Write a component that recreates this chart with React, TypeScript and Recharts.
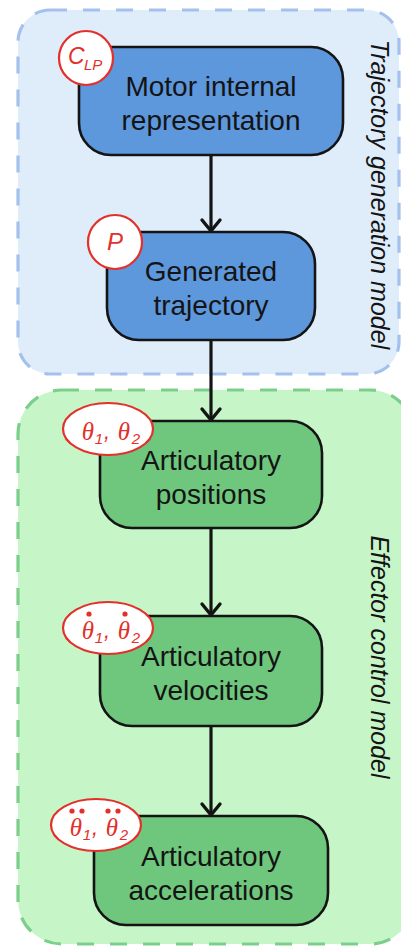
import React from "react";
import { ComposedChart, XAxis, YAxis, Scatter, ReferenceArea, ReferenceLine } from "recharts";

// ---------- content ----------
const stageLines: string[][] = [
  ["Motor internal", "representation"],
  ["Generated", "trajectory"],
  ["Articulatory", "positions"],
  ["Articulatory", "velocities"],
  ["Articulatory", "accelerations"],
];
const stageVariable = ["CLP", "P", "theta", "theta", "theta"];
const stageDerivative = [0, 0, 0, 1, 2];
const stageGroup = [0, 0, 1, 1, 1];
const groupLabels = ["Trajectory generation model", "Effector control model"];
const links: [number, number][] = [[0, 1], [1, 2], [2, 3], [3, 4]];

// ---------- layout (pixel units of the diagram) ----------
const W = 401;
const H = 946;
const CENTER_X = 211;
const centerY = [101, 286, 474.5, 671, 870.5];
const boxW = [264, 208, 222, 222, 234];
const boxH = [108, 108, 107, 110, 109];
const bubbleOff = [[7, 11], [8, 10], [8, 8], [8, 12], [2, 9]];
const groupX1 = [18, 18];
const groupX2 = [399, 414];
const groupY1 = [10, 390];
const groupY2 = [374, 944];
const groupRadius = [32, 44];
const groupLabelX = 371;
const groupLabelY = [194.5, 657];

// ---------- styles ----------
const FONT = "'Liberation Sans', Arial, Helvetica, sans-serif";
const SERIF = "'Liberation Serif', 'Times New Roman', serif";
const RED = "#e3302a";
const groupFill = ["#dfedfb", "#c6f6c8"];
const groupStroke = ["#a3c1ec", "#7ccf8b"];
const boxFill = ["#5d97dc", "#6fc77e"];
const INK = "#141414";

const nodes = stageLines.map((lines, i) => ({
  x: CENTER_X,
  y: centerY[i],
  i,
  lines,
  variable: stageVariable[i],
  deriv: stageDerivative[i],
  group: stageGroup[i],
}));

const tips = links.map(([, b]) => ({ x: CENTER_X, y: centerY[b] - boxH[b] / 2 }));

function Bubble({ kind, deriv, ex, ey }: { kind: string; deriv: number; ex: number; ey: number }) {
  if (kind === "CLP" || kind === "P") {
    return (
      <g>
        <circle cx={ex} cy={ey} r={27} fill="#ffffff" stroke={RED} strokeWidth={2.2} />
        {kind === "CLP" ? (
          <text fill={RED} fontFamily={FONT} fontStyle="italic">
            <tspan x={ex - 18} y={ey + 6} fontSize={23}>C</tspan>
            <tspan x={ex - 2} y={ey + 12} fontSize={15}>LP</tspan>
          </text>
        ) : (
          <text x={ex} y={ey + 8} fill={RED} fontFamily={FONT} fontStyle="italic" fontSize={24} textAnchor="middle">
            P
          </text>
        )}
      </g>
    );
  }
  const t1 = ex - 20;
  const t2 = ex + 16;
  const dotY = ey - 14;
  const dots: number[] = [];
  if (deriv === 1) dots.push(t1 + 1, t2 + 1);
  if (deriv === 2) dots.push(t1 - 4, t1 + 6, t2 - 4, t2 + 6);
  return (
    <g>
      <ellipse cx={ex} cy={ey} rx={45} ry={26} fill="#ffffff" stroke={RED} strokeWidth={2.2} />
      <text x={t1} y={ey + 11} fill={RED} fontFamily={SERIF} fontStyle="italic" fontSize={25} textAnchor="middle">θ</text>
      <text x={t1 + 11} y={ey + 15} fill={RED} fontFamily={FONT} fontStyle="italic" fontSize={15} textAnchor="middle">1</text>
      <text x={ex - 1} y={ey + 10} fill={RED} fontFamily={FONT} fontStyle="italic" fontSize={22} textAnchor="middle">,</text>
      <text x={t2} y={ey + 11} fill={RED} fontFamily={SERIF} fontStyle="italic" fontSize={25} textAnchor="middle">θ</text>
      <text x={t2 + 12} y={ey + 15} fill={RED} fontFamily={FONT} fontStyle="italic" fontSize={15} textAnchor="middle">2</text>
      {dots.map((dx, k) => (
        <circle key={k} cx={dx} cy={dotY} r={2.6} fill={RED} />
      ))}
    </g>
  );
}

function NodeShape(props: any) {
  const { cx, cy, payload } = props;
  const i = payload.i;
  const w = boxW[i];
  const h = boxH[i];
  const left = cx - w / 2;
  const top = cy - h / 2;
  return (
    <g>
      <rect x={left} y={top} width={w} height={h} rx={32} ry={32} fill={boxFill[payload.group]} stroke={INK} strokeWidth={2.6} />
      <text x={cx} y={cy - 5} textAnchor="middle" fontFamily={FONT} fontSize={28} fill={INK}>
        {payload.lines[0]}
      </text>
      <text x={cx} y={cy + 29} textAnchor="middle" fontFamily={FONT} fontSize={28} fill={INK}>
        {payload.lines[1]}
      </text>
      <Bubble kind={payload.variable} deriv={payload.deriv} ex={left + bubbleOff[i][0]} ey={top + bubbleOff[i][1]} />
    </g>
  );
}

function ArrowHead(props: any) {
  const { cx, cy } = props;
  return (
    <path
      d={`M${cx - 9},${cy - 12} L${cx},${cy - 1} L${cx + 9},${cy - 12}`}
      fill="none"
      stroke={INK}
      strokeWidth={3.4}
      strokeLinecap="round"
      strokeLinejoin="round"
    />
  );
}

function makeGroupShape(g: number) {
  return (props: any) => {
    const { x, y, width, height } = props;
    return (
      <g>
        <rect
          x={x}
          y={y}
          width={width}
          height={height}
          rx={groupRadius[g]}
          ry={groupRadius[g]}
          fill={groupFill[g]}
          stroke={groupStroke[g]}
          strokeWidth={3.2}
          strokeDasharray="17 16"
        />
        <text
          x={groupLabelX}
          y={groupLabelY[g]}
          transform={`rotate(90 ${groupLabelX} ${groupLabelY[g]})`}
          textAnchor="middle"
          fontFamily={FONT}
          fontStyle="italic"
          fontSize={25}
          fill={INK}
        >
          {groupLabels[g]}
        </text>
      </g>
    );
  };
}

export default function App() {
  return (
    <div style={{ position: "absolute", left: 0, top: 0, width: W, height: H, background: "#ffffff" }}>
      <ComposedChart width={W} height={H} margin={{ top: 0, right: 0, bottom: 0, left: 0 }}>
        <XAxis type="number" dataKey="x" domain={[0, W]} hide allowDataOverflow />
        <YAxis type="number" dataKey="y" domain={[0, H]} reversed hide allowDataOverflow />
        {groupLabels.map((_, g) => (
          <ReferenceArea
            key={g}
            x1={groupX1[g]}
            x2={groupX2[g]}
            y1={groupY1[g]}
            y2={groupY2[g]}
            ifOverflow="visible"
            shape={makeGroupShape(g)}
          />
        ))}
        {links.map(([a, b], k) => (
          <ReferenceLine
            key={k}
            segment={[
              { x: CENTER_X, y: centerY[a] + boxH[a] / 2 },
              { x: CENTER_X, y: centerY[b] - boxH[b] / 2 - 2 },
            ]}
            stroke={INK}
            strokeWidth={3.2}
            ifOverflow="visible"
          />
        ))}
        <Scatter data={tips} shape={ArrowHead} isAnimationActive={false} />
        <Scatter data={nodes} shape={NodeShape} isAnimationActive={false} />
      </ComposedChart>
    </div>
  );
}
